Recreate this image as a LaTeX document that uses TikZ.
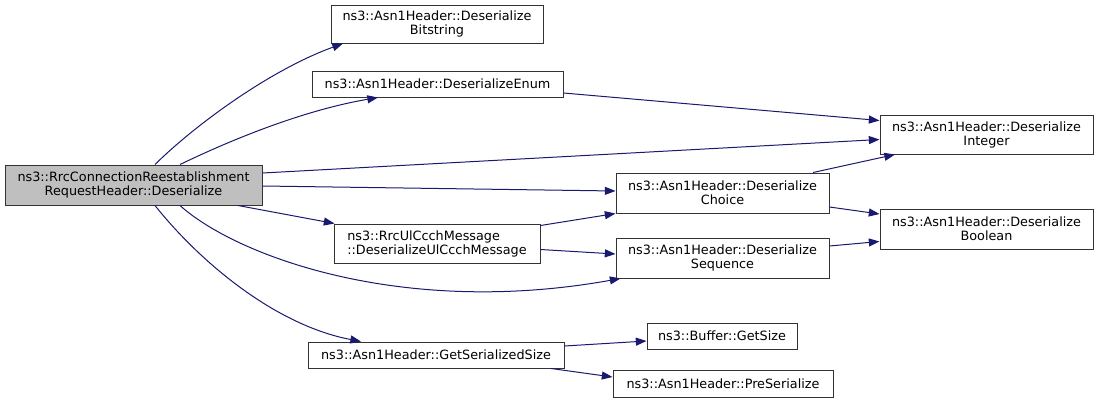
\documentclass[tikz,border=0pt]{standalone}
\usepackage{fontspec}
\setmainfont{DejaVu Sans}
\usetikzlibrary{arrows.meta,calc}
\definecolor{edgecol}{HTML}{191970}
\definecolor{boxline}{HTML}{333333}
\definecolor{mainfill}{HTML}{BFBFBF}
\begin{document}
\begin{tikzpicture}[x=0.75pt,y=-0.75pt,
  box/.style={draw=boxline,line width=0.75pt,fill=white,inner sep=0pt,align=center,
    font=\fontsize{9.6}{10.5}\selectfont},
  call/.style={draw=edgecol,line width=0.75pt,-{Triangle[length=8pt,width=6pt]}}]
\useasboundingbox (0,0) rectangle (1099,404);
\node[box,fill=mainfill,minimum width=192.75pt,minimum height=30pt] (main) at (133.5,185)
  {ns3::RrcConnectionReestablishment\\RequestHeader::Deserialize};
\node[box,minimum width=159pt,minimum height=28.5pt] (bits) at (437,24)
  {ns3::Asn1Header::Deserialize\\Bitstring};
\node[box,minimum width=188.25pt,minimum height=19.5pt] (enum) at (437.5,84)
  {ns3::Asn1Header::DeserializeEnum};
\node[box,align=left,minimum width=154.5pt,minimum height=29.25pt] (ul) at (437,243.5)
  {ns3::RrcUlCcchMessage\\::DeserializeUlCcchMessage};
\node[box,minimum width=192pt,minimum height=19.5pt] (gss) at (436,355)
  {ns3::Asn1Header::GetSerializedSize};
\node[box,minimum width=112.5pt,minimum height=19.5pt] (gsize) at (722,336)
  {ns3::Buffer::GetSize};
\node[box,minimum width=165pt,minimum height=20.25pt] (pre) at (723,383.5)
  {ns3::Asn1Header::PreSerialize};
\node[box,minimum width=159.75pt,minimum height=30pt] (choice) at (722.5,193)
  {ns3::Asn1Header::Deserialize\\Choice};
\node[box,minimum width=159.75pt,minimum height=30pt] (seq) at (722.5,258)
  {ns3::Asn1Header::Deserialize\\Sequence};
\node[box,minimum width=159.75pt,minimum height=29.25pt] (int) at (986.5,134.5)
  {ns3::Asn1Header::Deserialize\\Integer};
\node[box,minimum width=159.75pt,minimum height=30pt] (bool) at (986.5,229)
  {ns3::Asn1Header::Deserialize\\Boolean};
% edges
\draw[call] ($(main.north)+(21.5,0)$) .. controls (195,125) and (270,70) .. ($(bits.south)+(-94,0)$);
\draw[call] ($(main.north)+(46.5,0)$) .. controls (235,138) and (305,110) .. ($(enum.south)+(-59.5,0)$);
\draw[call] ($(enum.east)+(0,9)$) -- ($(int.west)+(0,-14)$);
\draw[call] ($(main.east)+(0,-12)$) -- ($(int.west)+(0,5)$);
\draw[call] ($(main.east)+(0,1)$) -- ($(choice.west)+(0,-2)$);
\draw[call] ($(choice.north)+(90.5,0)$) -- ($(int.south)+(-91.5,0)$);
\draw[call] ($(choice.east)+(0,14)$) -- ($(bool.west)+(0,-15)$);
\draw[call] ($(main.south)+(104.5,0)$) -- ($(ul.north west)+(1,0)$);
\draw[call] ($(ul.east)+(0,-18)$) -- ($(choice.south west)+(0,0)$);
\draw[call] ($(ul.east)+(0,6)$) -- ($(seq.west)+(0,-4)$);
\draw[call] ($(seq.east)+(0,-12)$) -- ($(bool.west)+(0,12.5)$);
\draw[call] ($(main.south)+(46.5,0)$) .. controls (235,255) and (400,318) .. ($(seq.south)+(-102,0)$);
\draw[call] ($(main.south)+(21.5,0)$) .. controls (200,262) and (275,325) .. ($(gss.north)+(-75,0)$);
\draw[call] ($(gss.east)+(0,-9)$) -- ($(gsize.west)+(0,5)$);
\draw[call] ($(gss.south)+(115,0)$) -- ($(pre.west)+(0,-6.5)$);
\end{tikzpicture}
\end{document}
